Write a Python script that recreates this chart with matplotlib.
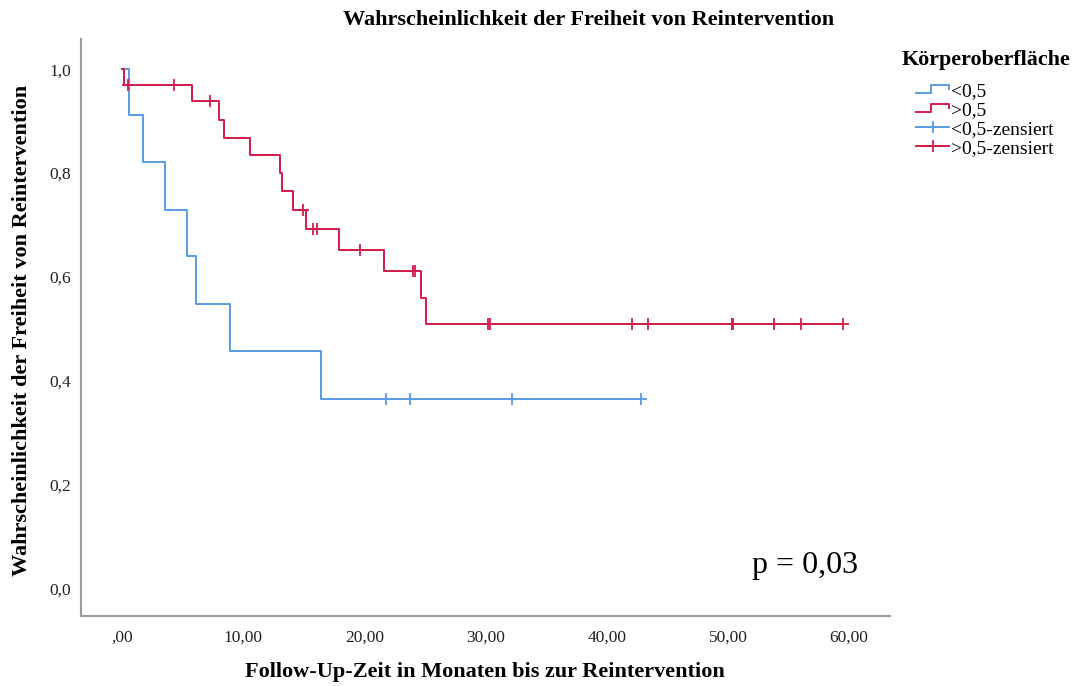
import matplotlib
matplotlib.use("Agg")
import matplotlib.pyplot as plt
from matplotlib.legend_handler import HandlerBase
from matplotlib.lines import Line2D
import numpy as np

# Kaplan-Meier Stufen, Koerperoberflaeche <0,5
blue_t = [0, 0.6, 1.7, 3.55, 5.4, 6.1, 8.9, 16.4]
blue_s = [1.0, 0.912, 0.821, 0.730, 0.640, 0.548, 0.457, 0.366]
blue_end = 42.8
blue_cens = [21.8, 23.8, 32.2, 42.8]

# Koerperoberflaeche >0,5
red_t = [0, 0.15, 5.75, 8.0, 8.4, 10.6, 13.05, 13.2, 14.15, 15.2, 17.9, 21.6, 24.7, 25.1]
red_s = [1.0, 0.970, 0.938, 0.903, 0.868, 0.834, 0.800, 0.766, 0.730, 0.693, 0.653,
         0.611, 0.559, 0.509]
red_end = 59.5
red_cens = [0.5, 4.3, 7.3, 14.9, 15.8, 16.1, 19.6, 24.0, 24.2, 30.2, 30.4, 42.1, 43.4,
            50.3, 50.4, 53.8, 56.0, 59.5]

group_labels = ["<0,5", ">0,5", "<0,5-zensiert", ">0,5-zensiert"]
x_ticks = [0, 10, 20, 30, 40, 50, 60]
x_ticklabels = [",00", "10,00", "20,00", "30,00", "40,00", "50,00", "60,00"]
y_ticks = [0, 0.2, 0.4, 0.6, 0.8, 1.0]
y_ticklabels = ["0,0", "0,2", "0,4", "0,6", "0,8", "1,0"]

BLUE = "#5a9ae6"
RED = "#d41a4a"
SPINE = "#9a9a9a"

plt.rcParams["font.family"] = ["Liberation Serif", "DejaVu Serif"]


class StepHandler(HandlerBase):
    # kleines Treppen-Symbol wie in der SPSS-Legende
    def create_artists(self, legend, orig_handle, xdescent, ydescent,
                       width, height, fontsize, trans):
        lo = height * 0.22 - ydescent
        hi = height * 0.78 - ydescent
        xs = [-xdescent, -xdescent + 0.45 * width, -xdescent + 0.45 * width,
              -xdescent + width, -xdescent + width]
        ys = [lo, lo, hi, hi, lo + 0.25 * height]
        ln = Line2D(xs, ys, color=orig_handle.get_color(),
                    lw=orig_handle.get_linewidth(), transform=trans)
        return [ln]


def step_value(t, s, x):
    idx = np.searchsorted(t, x, side="right") - 1
    return np.asarray(s)[idx]


fig = plt.figure(figsize=(10.75, 6.86), dpi=100)
ax = fig.add_axes([81 / 1075, 1 - 616 / 686, (890 - 81) / 1075, (616 - 39) / 686])

lb, = ax.step(blue_t + [blue_end], blue_s + [blue_s[-1]], where="post",
              color=BLUE, lw=1.4)
lr, = ax.step(red_t + [red_end], red_s + [red_s[-1]], where="post",
              color=RED, lw=1.4)

cb, = ax.plot(blue_cens, step_value(blue_t, blue_s, blue_cens), ls="none",
              marker="+", ms=9, mew=1.3, color=BLUE)
cr, = ax.plot(red_cens, step_value(red_t, red_s, red_cens), ls="none",
              marker="+", ms=9, mew=1.3, color=RED)

ax.set_xlim(-3.38, 63.37)
ax.set_ylim(-0.052, 1.058)
ax.set_xticks(x_ticks)
ax.set_xticklabels(x_ticklabels)
ax.set_yticks(y_ticks)
ax.set_yticklabels(y_ticklabels)
ax.tick_params(axis="both", length=0, labelsize=12.5, colors="#222222")
ax.tick_params(axis="x", pad=10)
ax.tick_params(axis="y", pad=7)
for side in ["top", "right"]:
    ax.spines[side].set_visible(False)
for side in ["left", "bottom"]:
    ax.spines[side].set_color(SPINE)
    ax.spines[side].set_linewidth(1.5)

fig.text(589 / 1075, 1 - 20 / 686, "Wahrscheinlichkeit der Freiheit von Reintervention",
         ha="center", va="center", fontsize=16, fontweight="bold")
fig.text(22 / 1075, 1 - 330 / 686, "Wahrscheinlichkeit der Freiheit von Reintervention",
         ha="center", va="center", rotation=90, fontsize=16, fontweight="bold")
fig.text(485 / 1075, 1 - 672 / 686, "Follow-Up-Zeit in Monaten bis zur Reintervention",
         ha="center", va="center", fontsize=16, fontweight="bold")
fig.text(752 / 1075, 1 - 565 / 686, "p = 0,03", ha="left", va="center", fontsize=23)

# Legende: Titel separat, damit der Abstand zu den Eintraegen stimmt
fig.text(902 / 1075, 1 - 60 / 686, "Körperoberfläche", ha="left", va="center",
         fontsize=15.8, fontweight="bold")
h_cb = Line2D([], [], color=BLUE, lw=1.4, marker="+", ms=9, mew=1.3)
h_cr = Line2D([], [], color=RED, lw=1.4, marker="+", ms=9, mew=1.3)
leg = fig.legend([lb, lr, h_cb, h_cr], group_labels,
                 handler_map={lb: StepHandler(), lr: StepHandler()},
                 loc="upper left", bbox_to_anchor=(916 / 1075, 1 - 82 / 686),
                 frameon=False, fontsize=14, borderpad=0,
                 handlelength=1.7, handletextpad=0.1,
                 labelspacing=0.08, numpoints=1, borderaxespad=0)

fig.savefig("out.png", dpi=100)
